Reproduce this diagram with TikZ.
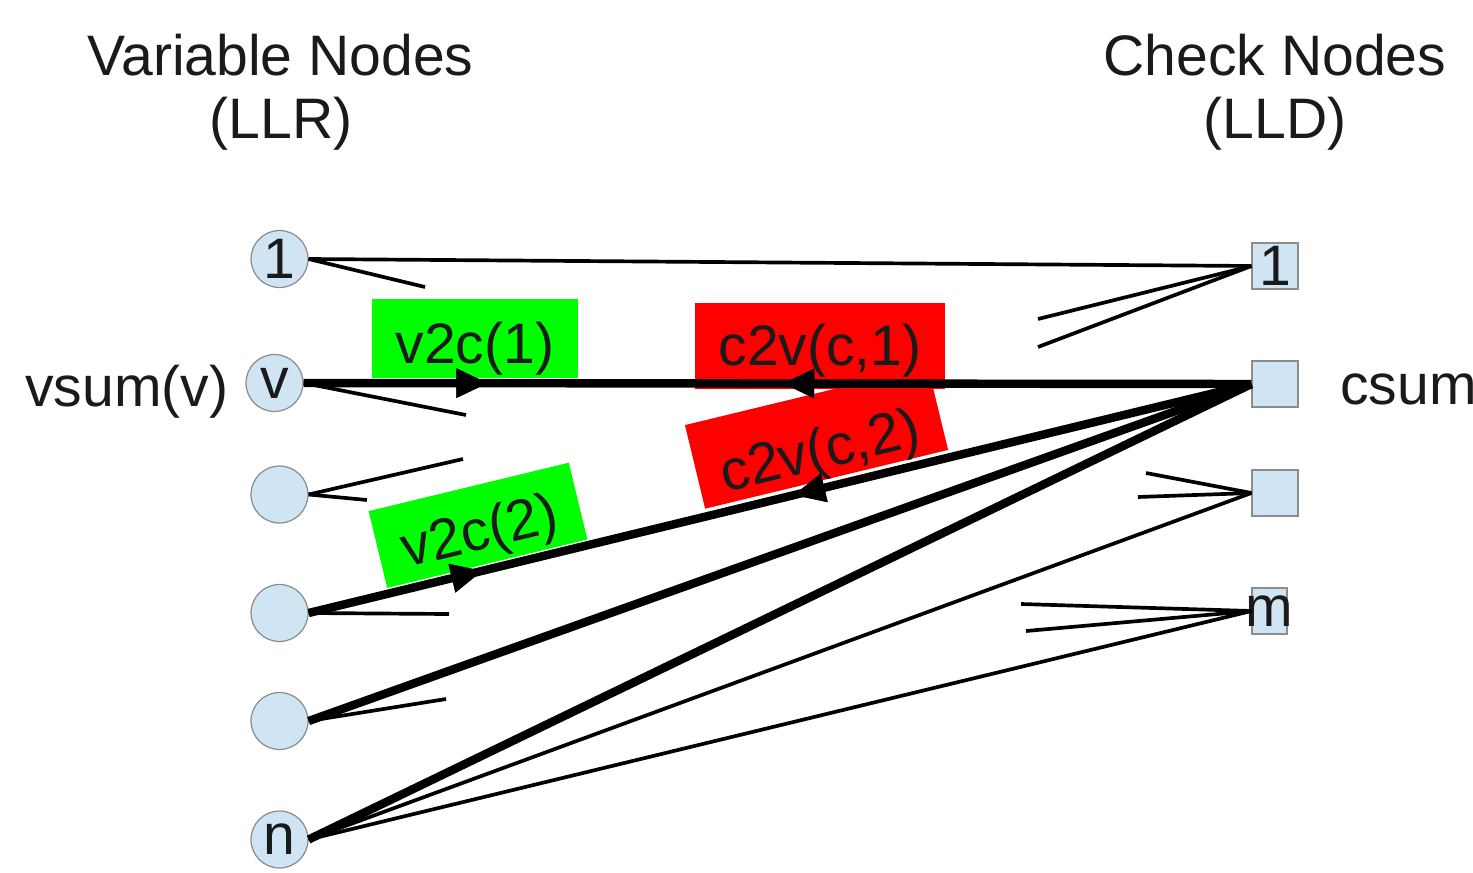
\documentclass[tikz,border=0pt]{standalone}
\usepackage{fontspec}
\setmainfont{Liberation Sans}
\usetikzlibrary{arrows.meta,decorations.markings}
\definecolor{nodefill}{HTML}{CFE5F3}
\definecolor{nodeline}{HTML}{8C8C8C}
\definecolor{txt}{HTML}{1A1A1A}
\definecolor{msggreen}{HTML}{00FF00}
\definecolor{msgred}{HTML}{FF0000}
\begin{document}
\begin{tikzpicture}[x=0.02cm,y=-0.02cm,
  every node/.style={font=\fontsize{32.5}{37}\selectfont, text=txt, inner sep=0pt},
  vnode/.style={circle, draw=nodeline, line width=0.7pt, fill=nodefill, minimum size=1.14cm},
  cnode/.style={rectangle, draw=nodeline, line width=0.7pt, fill=nodefill, minimum width=0.92cm, minimum height=0.92cm},
  thinedge/.style={line width=2.1pt},
  thickedge/.style={line width=4.8pt},
  greenbox/.style={fill=msggreen, minimum width=4.12cm, text height=1.28cm, text depth=0.3cm},
  redbox/.style={fill=msgred, minimum width=5cm, text height=1.24cm, text depth=0.48cm},
  fwdtip/.style={postaction={decorate}, decoration={markings,
     mark=at position #1 with {\arrow{Triangle[length=0.64cm,width=0.54cm]}}}},
  backtip/.style={postaction={decorate}, decoration={markings,
     mark=at position #1 with {\arrowreversed{Triangle[length=0.64cm,width=0.54cm]}}}}
]
\useasboundingbox (0,0) rectangle (1473,872);

% titles
\node[anchor=base] (t1) at (280.5,75) {Variable Nodes};
\node[anchor=base] (t2) at (281,138) {(LLR)};
\node[anchor=base] (t3) at (1275,75) {Check Nodes};
\node[anchor=base] (t4) at (1275,138) {(LLD)};

% message boxes
\node[greenbox] (m1) at (475,338.5) {v2c(1)};
\node[greenbox, rotate=13.6] (m2) at (478,525.3) {v2c(2)};
\node[redbox, rotate=13.6, text height=1.5cm, text depth=0.22cm] (m4) at (816.5,437.5) {c2v(c,2)};
\node[redbox] (m3) at (820,346) {c2v(c,1)};

% variable nodes
\node[vnode] (v1) at (279.5,259) {1};
\node[vnode] (v2) at (274.5,383) {v};
\node[vnode] (v3) at (279.5,494.5) {};
\node[vnode] (v4) at (279.5,613) {};
\node[vnode] (v5) at (279.5,721) {};
\node[vnode] (vn) at (279.5,839.5) {n};

% check nodes
\node[cnode] (c1) at (1275,266) {1};
\node[cnode] (c2) at (1275,384) {};
\node[cnode] (c3) at (1275,493) {};
\node[cnode, minimum width=0.7cm] (cm) at (1269.5,611) {\makebox[0pt]{m}};

% side labels
\node[anchor=base west] (vs) at (25,406) {vsum(v)};
\node[anchor=base west] (cs) at (1340,404) {csum};

% stub end points
\coordinate (s1) at (425,287);
\coordinate (s2) at (466,415);
\coordinate (s3) at (463,459);
\coordinate (s4) at (367,500);
\coordinate (s5) at (449,614);
\coordinate (s6) at (446,699);
\coordinate (s7) at (1038,319);
\coordinate (s8) at (1038,347);
\coordinate (s9) at (1146,473);
\coordinate (s10) at (1138,497);
\coordinate (s11) at (1021,604);
\coordinate (s12) at (1026,631);

% thin edges
\draw[thinedge] (v1.east) -- (c1.west);
\draw[thinedge] (v1.east) -- (s1);
\draw[thinedge] (v2.east) -- (s2);
\draw[thinedge] (v3.east) -- (s3);
\draw[thinedge] (v3.east) -- (s4);
\draw[thinedge] (v4.east) -- (s5);
\draw[thinedge] (v5.east) -- (s6);
\draw[thinedge] (vn.east) -- (c3.west);
\draw[thinedge] (vn.east) -- (cm.west);
\draw[thinedge] (c1.west) -- (s7);
\draw[thinedge] (c1.west) -- (s8);
\draw[thinedge] (c3.west) -- (s9);
\draw[thinedge] (c3.west) -- (s10);
\draw[thinedge] (cm.west) -- (s11);
\draw[thinedge] (cm.west) -- (s12);

% thick edges
\draw[thickedge, fwdtip=0.195, backtip=0.505] (v2.east) -- (c2.west);
\draw[thickedge, fwdtip=0.185, backtip=0.514] (v4.east) -- (c2.west);
\draw[thickedge] (v5.east) -- (c2.west);
\draw[thickedge] (vn.east) -- (c2.west);
\end{tikzpicture}
\end{document}
